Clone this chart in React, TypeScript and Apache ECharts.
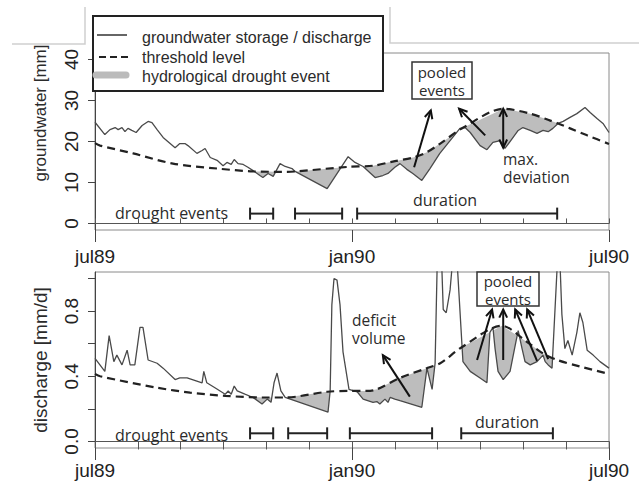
import React, { useEffect, useRef } from "react";
import * as echarts from "echarts";

// ---------- data (months since jul89) ----------
const gwMonths = [0, 0.23, 0.35, 0.47, 0.54, 0.63, 0.7, 0.77, 0.86, 0.96, 1.1, 1.24, 1.33, 1.45, 1.59, 1.87, 1.98, 2.1, 2.17, 2.38, 2.5, 2.57, 2.69, 2.85, 2.99, 3.08, 3.18, 3.25, 3.34, 3.46, 3.57, 3.69, 3.85, 3.92, 4.04, 4.16, 4.32, 4.44, 4.6, 4.67, 5.42, 5.91, 6.07, 6.26, 6.54, 6.65, 6.72, 6.84, 7.0, 7.12, 7.28, 7.42, 7.63, 7.82, 8.05, 8.29, 8.52, 8.64, 8.76, 8.99, 9.15, 9.29, 9.46, 9.57, 9.74, 9.88, 9.99, 10.16, 10.32, 10.46, 10.58, 10.69, 10.81, 10.93, 11.09, 11.25, 11.44, 11.56, 11.72, 11.86, 12.0];
const gwValues = [24.7, 21.7, 22.9, 23.4, 22.9, 23.4, 22.4, 23.2, 22.7, 22.2, 23.9, 24.9, 24.6, 22.9, 21.0, 18.5, 19.5, 19.5, 19.0, 17.1, 17.8, 18.3, 16.1, 15.4, 14.1, 14.9, 14.4, 15.6, 14.6, 14.4, 13.7, 12.9, 11.7, 11.2, 12.2, 11.5, 14.6, 13.9, 13.4, 12.7, 8.5, 16.3, 14.9, 13.9, 11.2, 11.5, 11.7, 12.2, 13.7, 14.6, 13.2, 12.2, 10.5, 13.4, 17.1, 20.2, 23.2, 23.4, 22.2, 19.0, 18.0, 19.8, 20.2, 18.3, 20.7, 22.7, 23.4, 22.7, 22.0, 22.7, 22.4, 23.2, 24.4, 24.9, 25.9, 26.8, 28.3, 27.1, 25.6, 24.4, 22.2];

const gwThrMonths = [0, 0.12, 0.89, 1.82, 2.85, 3.69, 4.49, 4.7, 5.9, 6.5, 6.95, 7.43, 7.75, 8.06, 8.6, 9.54, 10.16, 10.63, 10.81, 11.09, 11.49, 12.0];
const gwThrValues = [19.6, 19.0, 17.1, 14.6, 13.4, 12.7, 12.6, 12.7, 13.8, 14.1, 15.1, 16.1, 17.4, 19.5, 23.4, 28.0, 26.8, 25.1, 24.4, 23.2, 21.5, 19.4];

const qMonths = [0, 0.23, 0.33, 0.44, 0.51, 0.63, 0.75, 0.82, 0.93, 1.05, 1.12, 1.24, 1.45, 1.59, 1.87, 1.98, 2.15, 2.5, 2.54, 2.61, 2.8, 3.04, 3.11, 3.18, 3.25, 3.32, 3.5, 3.69, 3.9, 4.02, 4.11, 4.18, 4.25, 4.34, 4.44, 5.44, 5.49, 5.53, 5.58, 5.65, 5.72, 5.79, 5.93, 6.12, 6.26, 6.49, 6.58, 6.65, 6.77, 6.84, 6.89, 7.0, 7.12, 7.63, 7.75, 7.87, 7.94, 8.03, 8.13, 8.2, 8.29, 8.41, 8.57, 8.59, 8.76, 8.99, 9.15, 9.22, 9.29, 9.34, 9.41, 9.53, 9.69, 9.81, 9.88, 9.97, 10.04, 10.16, 10.32, 10.46, 10.51, 10.58, 10.67, 10.83, 10.9, 10.97, 11.04, 11.14, 11.25, 11.32, 11.39, 11.49, 11.63, 11.79, 12.0];
const qValues = [0.51, 0.43, 0.65, 0.49, 0.53, 0.47, 0.56, 0.47, 0.47, 0.7, 0.7, 0.5, 0.48, 0.45, 0.38, 0.39, 0.39, 0.36, 0.43, 0.36, 0.33, 0.29, 0.31, 0.29, 0.34, 0.31, 0.29, 0.27, 0.23, 0.26, 0.24, 0.36, 0.42, 0.31, 0.27, 0.18, 0.31, 0.84, 1.0, 0.99, 0.84, 0.55, 0.32, 0.305, 0.26, 0.24, 0.245, 0.23, 0.26, 0.24, 0.27, 0.26, 0.25, 0.21, 0.45, 0.32, 0.48, 1.6, 0.81, 0.79, 0.93, 1.3, 0.58, 0.49, 0.43, 0.39, 0.36, 0.67, 0.7, 0.57, 0.43, 0.38, 0.43, 0.59, 0.68, 0.57, 0.49, 0.47, 0.49, 0.53, 0.49, 0.47, 0.45, 1.28, 0.78, 0.57, 0.62, 0.53, 0.67, 0.79, 0.73, 0.56, 0.53, 0.49, 0.45];

const qThrMonths = [0, 0.12, 1.45, 2.22, 3.04, 3.92, 4.44, 5.42, 5.91, 6.35, 6.58, 7.12, 7.75, 8.06, 8.57, 9.5, 10.09, 10.46, 10.79, 11.32, 12.0];
const qThrValues = [0.415, 0.4, 0.33, 0.3, 0.28, 0.27, 0.27, 0.305, 0.31, 0.31, 0.32, 0.39, 0.45, 0.48, 0.58, 0.71, 0.61, 0.54, 0.5, 0.46, 0.415];

// drought event bars [start, end, level]
const gwEvents = [[3.62, 4.16, 2.4], [4.67, 5.77, 2.4], [6.12, 10.79, 2.4]];
const qEvents = [[3.62, 4.16, 0.05], [4.51, 5.42, 0.05], [5.95, 7.87, 0.05], [8.55, 10.69, 0.05]];

// annotation arrows [x1, y1, x2(head), y2(head), doubleHeaded]
const gwArrows = [[7.45, 13.7, 7.84, 27.6, 0], [9.11, 21.5, 8.5, 28.0, 0], [9.53, 18.5, 9.53, 28.0, 1]];
const qArrows = [[7.35, 0.275, 6.72, 0.53, 0], [8.92, 0.5, 9.27, 0.81, 0], [9.53, 0.5, 9.53, 0.81, 0], [10.32, 0.495, 9.81, 0.81, 0], [10.58, 0.505, 10.09, 0.81, 0]];

const xTickLabels: Record<number, string> = { 0: "jul89", 6: "jan90", 12: "jul90" };
const gwTicks = [0, 10, 20, 30, 40];
const qTicks = [0, 0.2, 0.4, 0.6, 0.8, 1.0];
const qLabels = [0, 0.4, 0.8];

// ---------- helpers ----------
function interp(xs: number[], ys: number[], x: number) {
  if (x <= xs[0]) return ys[0];
  for (let i = 0; i < xs.length - 1; i++) {
    if (x >= xs[i] && x <= xs[i + 1]) {
      const f = xs[i + 1] === xs[i] ? 0 : (x - xs[i]) / (xs[i + 1] - xs[i]);
      return ys[i] + f * (ys[i + 1] - ys[i]);
    }
  }
  return ys[ys.length - 1];
}

function deficitPolys(xs: number[], vs: number[], txs: number[], tvs: number[]) {
  const all = Array.from(new Set([...xs, ...txs])).sort((a, b) => a - b);
  const pts = all.map((x) => ({ x, v: interp(xs, vs, x), t: interp(txs, tvs, x) }));
  const polys: number[][][] = [];
  let cur: { x: number; v: number; t: number }[] | null = null;
  for (let i = 0; i < pts.length; i++) {
    const p = pts[i];
    if (i > 0) {
      const q = pts[i - 1];
      const d0 = q.v - q.t;
      const d1 = p.v - p.t;
      if ((d0 < 0) !== (d1 < 0) && d0 !== d1) {
        const f = d0 / (d0 - d1);
        const xc = q.x + f * (p.x - q.x);
        const yc = q.v + f * (p.v - q.v);
        if (cur) {
          cur.push({ x: xc, v: yc, t: yc });
          polys.push(toPoly(cur));
          cur = null;
        } else {
          cur = [{ x: xc, v: yc, t: yc }];
        }
      }
    }
    if (p.v < p.t) {
      if (!cur) cur = [];
      cur.push(p);
    }
  }
  if (cur) polys.push(toPoly(cur));
  return polys;
}
function toPoly(run: { x: number; v: number; t: number }[]) {
  return run.map((p) => [p.x, p.t]).concat(run.slice().reverse().map((p) => [p.x, p.v]));
}

const TXT = "#2b2b2b";
const SANS = "'Liberation Sans', Arial, sans-serif";
const ANN = "'Open Sans', sans-serif";

function fillSeries(polys: number[][][], xi: number, yi: number) {
  return {
    type: "custom",
    xAxisIndex: xi,
    yAxisIndex: yi,
    clip: true,
    silent: true,
    z: 1,
    data: polys.map((p) => p[0]),
    renderItem: (params: any, api: any) => {
      const poly = polys[params.dataIndex];
      return {
        type: "polygon",
        shape: { points: poly.map((pt) => api.coord(pt)) },
        style: { fill: "#bdbdbd", stroke: "none" },
      };
    },
  };
}

function eventSeries(events: number[][], xi: number, yi: number) {
  return {
    type: "custom",
    xAxisIndex: xi,
    yAxisIndex: yi,
    clip: false,
    silent: true,
    z: 5,
    data: events,
    renderItem: (params: any, api: any) => {
      const a = api.coord([api.value(0), api.value(2)]);
      const b = api.coord([api.value(1), api.value(2)]);
      const st = { stroke: "#222", lineWidth: 2 };
      return {
        type: "group",
        children: [
          { type: "line", shape: { x1: a[0], y1: a[1], x2: b[0], y2: b[1] }, style: st },
          { type: "line", shape: { x1: a[0], y1: a[1] - 6, x2: a[0], y2: a[1] + 6 }, style: st },
          { type: "line", shape: { x1: b[0], y1: b[1] - 6, x2: b[0], y2: b[1] + 6 }, style: st },
        ],
      };
    },
  };
}

function head(tip: number[], from: number[]) {
  const ang = Math.atan2(from[1] - tip[1], from[0] - tip[0]);
  const L = 9;
  const w = 0.45;
  return {
    type: "polyline",
    shape: {
      points: [
        [tip[0] + L * Math.cos(ang + w), tip[1] + L * Math.sin(ang + w)],
        tip,
        [tip[0] + L * Math.cos(ang - w), tip[1] + L * Math.sin(ang - w)],
      ],
    },
    style: { stroke: "#111", lineWidth: 2, fill: "none" },
  };
}

function arrowSeries(arrows: number[][], xi: number, yi: number) {
  return {
    type: "custom",
    xAxisIndex: xi,
    yAxisIndex: yi,
    clip: false,
    silent: true,
    z: 6,
    data: arrows,
    renderItem: (params: any, api: any) => {
      const p1 = api.coord([api.value(0), api.value(1)]);
      const p2 = api.coord([api.value(2), api.value(3)]);
      const children: any[] = [
        { type: "line", shape: { x1: p1[0], y1: p1[1], x2: p2[0], y2: p2[1] }, style: { stroke: "#111", lineWidth: 2 } },
        head(p2, p1),
      ];
      if (api.value(4)) children.push(head(p1, p2));
      return { type: "group", children };
    },
  };
}

function txt(text: string, x: number, y: number, align = "left", font = ANN, size = 16, extra: any = {}) {
  return {
    type: "text",
    x,
    y,
    z: 50,
    ...extra,
    style: { text, fill: TXT, fontFamily: font, fontSize: size, lineHeight: 18, align, verticalAlign: "middle" },
  };
}

export default function App() {
  const ref = useRef<HTMLDivElement>(null);
  useEffect(() => {
    if (!ref.current) return;
    const chart = echarts.init(ref.current, null, { renderer: "svg" });
    const gwPolys = deficitPolys(gwMonths, gwValues, gwThrMonths, gwThrValues);
    const qPolys = deficitPolys(qMonths, qValues, qThrMonths, qThrValues);

    const minorX = (gi: number, inside: boolean, len: number) => ({
      type: "value",
      gridIndex: gi,
      min: 0,
      max: 12,
      interval: 1,
      position: "bottom",
      axisLine: { show: true, lineStyle: { color: "#555", width: 1 } },
      axisTick: { show: true, inside, length: len, lineStyle: { color: "#555" } },
      axisLabel: { show: false },
      splitLine: { show: false },
    });
    const majorX = (gi: number, margin: number) => ({
      type: "value",
      gridIndex: gi,
      min: 0,
      max: 12,
      interval: 6,
      position: "bottom",
      axisLine: { show: false },
      axisTick: { show: true, length: 12, lineStyle: { color: "#444" } },
      axisLabel: {
        show: true,
        margin,
        color: "#222",
        fontFamily: SANS,
        fontSize: 19,
        formatter: (v: number) => xTickLabels[v] ?? "",
      },
      splitLine: { show: false },
    });

    const option: any = {
      animation: false,
      backgroundColor: "#fff",
      grid: [
        { left: 95, right: 30, top: 53, bottom: 253, show: true, borderColor: "#8a8a8a", borderWidth: 1 },
        { left: 95, right: 30, top: 272, bottom: 35, show: true, borderColor: "#8a8a8a", borderWidth: 1 },
      ],
      xAxis: [minorX(0, true, 5), majorX(0, 17), minorX(1, false, 8), majorX(1, 13)],
      yAxis: [
        {
          type: "value",
          gridIndex: 0,
          min: -1.6,
          max: 41.6,
          axisLine: { show: true, lineStyle: { color: "#444" } },
          axisTick: { show: true, length: 7, customValues: gwTicks, lineStyle: { color: "#444" } },
          axisLabel: {
            show: true,
            customValues: gwTicks,
            rotate: 90,
            margin: 14,
            color: "#222",
            fontFamily: SANS,
            fontSize: 19,
          },
          splitLine: { show: false },
        },
        {
          type: "value",
          gridIndex: 1,
          min: -0.04,
          max: 1.04,
          axisLine: { show: true, lineStyle: { color: "#444" } },
          axisTick: { show: true, length: 7, customValues: qTicks, lineStyle: { color: "#444" } },
          axisLabel: {
            show: true,
            customValues: qLabels,
            rotate: 90,
            margin: 14,
            color: "#222",
            fontFamily: SANS,
            fontSize: 19,
            formatter: (v: number) => v.toFixed(1),
          },
          splitLine: { show: false },
        },
      ],
      series: [
        fillSeries(gwPolys, 0, 0),
        {
          type: "line",
          xAxisIndex: 0,
          yAxisIndex: 0,
          data: gwMonths.map((m, i) => [m, gwValues[i]]),
          showSymbol: false,
          lineStyle: { color: "#4a4a4a", width: 1.3 },
          z: 3,
        },
        {
          type: "line",
          xAxisIndex: 0,
          yAxisIndex: 0,
          data: gwThrMonths.map((m, i) => [m, gwThrValues[i]]),
          showSymbol: false,
          smooth: 0.3,
          lineStyle: { color: "#222", width: 2.2, type: [8, 5] },
          z: 4,
        },
        eventSeries(gwEvents, 0, 0),
        arrowSeries(gwArrows, 0, 0),
        fillSeries(qPolys, 2, 1),
        {
          type: "line",
          xAxisIndex: 2,
          yAxisIndex: 1,
          data: qMonths.map((m, i) => [m, qValues[i]]),
          showSymbol: false,
          clip: true,
          lineStyle: { color: "#4a4a4a", width: 1.3 },
          z: 3,
        },
        {
          type: "line",
          xAxisIndex: 2,
          yAxisIndex: 1,
          data: qThrMonths.map((m, i) => [m, qThrValues[i]]),
          showSymbol: false,
          smooth: 0.3,
          lineStyle: { color: "#222", width: 2.2, type: [8, 5] },
          z: 4,
        },
        eventSeries(qEvents, 2, 1),
        arrowSeries(qArrows, 2, 1),
      ],
      graphic: [
        // page artifact lines
        { type: "polyline", shape: { points: [[12, 44], [85, 44], [85, 7]] }, style: { stroke: "#cfcfcf", lineWidth: 1.5, fill: "none" }, z: 1 },
        { type: "polyline", shape: { points: [[639, 43], [390, 43], [390, 7]] }, style: { stroke: "#cfcfcf", lineWidth: 1.5, fill: "none" }, z: 1 },
        // y axis titles
        txt("groundwater [mm]", 40, 113, "center", SANS, 17, { rotation: Math.PI / 2 }),
        txt("discharge [mm/d]", 40, 360, "center", SANS, 19, { rotation: Math.PI / 2 }),
        // legend
        { type: "rect", shape: { x: 93, y: 16, width: 290, height: 75 }, style: { fill: "#fff", stroke: "#222", lineWidth: 2 }, z: 40 },
        { type: "line", shape: { x1: 97, y1: 35, x2: 127, y2: 35 }, style: { stroke: "#333", lineWidth: 1.5 }, z: 41 },
        { type: "line", shape: { x1: 99, y1: 57, x2: 128, y2: 57 }, style: { stroke: "#222", lineWidth: 2, lineDash: [7, 4] }, z: 41 },
        { type: "line", shape: { x1: 96, y1: 75, x2: 126, y2: 75 }, style: { stroke: "#bbb", lineWidth: 7, lineCap: "round" }, z: 41 },
        txt("groundwater storage / discharge", 142, 37, "left", SANS, 16),
        txt("threshold level", 142, 57, "left", SANS, 16),
        txt("hydrological drought event", 142, 76, "left", SANS, 16),
        // top annotations
        txt("drought events", 115, 213),
        txt("duration", 445, 200, "center"),
        { type: "rect", shape: { x: 412, y: 62, width: 60, height: 37 }, style: { fill: "#fff", stroke: "#333", lineWidth: 1.5 }, z: 45 },
        txt("pooled\nevents", 442, 81, "center", ANN, 15),
        txt("max.\ndeviation", 503, 168, "left", ANN, 15.5),
        // bottom annotations
        txt("drought events", 115, 435),
        txt("duration", 507, 422, "center"),
        txt("deficit\nvolume", 352, 329, "left", ANN, 15.5),
        { type: "rect", shape: { x: 477, y: 272, width: 62, height: 34 }, style: { fill: "#fff", stroke: "#333", lineWidth: 1.5 }, z: 45 },
        txt("pooled\nevents", 508, 290, "center", ANN, 15),
      ],
    };
    chart.setOption(option);
    return () => chart.dispose();
  }, []);
  return <div ref={ref} style={{ position: "fixed", left: 0, top: 0, width: 639, height: 483 }} />;
}
